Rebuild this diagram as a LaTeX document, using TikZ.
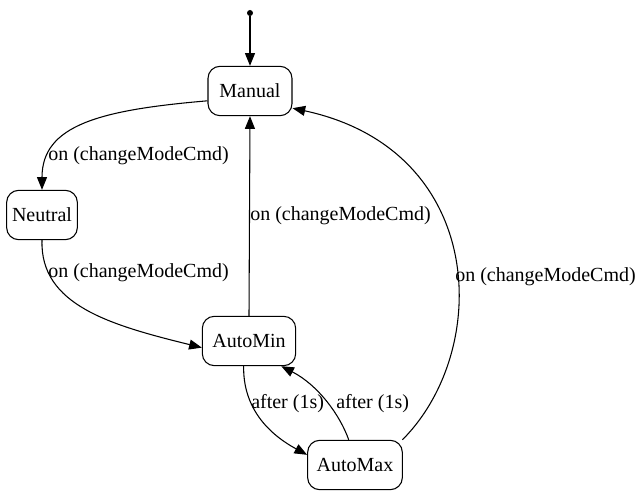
\documentclass[tikz,border=0pt]{standalone}
\usepackage{fontspec}
\setmainfont{Liberation Serif}
\usepackage{tikz}
\usetikzlibrary{calc, arrows.meta, positioning}

\tikzset{
  state/.style={draw, rounded corners=9pt, line width=0.8pt, minimum height=37pt, inner sep=0pt},
  trans/.style={line width=0.8pt, arrows={-Triangle[length=9.5pt,width=7.5pt]}},
  lbl/.style={anchor=west, inner sep=0pt}
}

\begin{document}
\begin{tikzpicture}[x=0.75pt,y=-0.75pt,font=\fontsize{15}{17}\selectfont]
        \useasboundingbox (0,0) rectangle (636,491);

        \node[circle, fill, inner sep=0pt, minimum size=4.5pt] (init) at (250,13) {};
        \node[state, minimum width=63pt] (manual) at (250,91) {Manual};
        \node[state, minimum width=53pt] (neutral) at (42,215) {Neutral};
        \node[state, minimum width=70pt] (automin) at (249,341) {AutoMin};
        \node[state, minimum width=71pt] (automax) at (355,465) {AutoMax};

        \draw[trans] (init) -- (manual);
        \draw[trans] (manual.193) .. controls (100,110) and (42,125) .. (neutral.north);
        \draw[trans] (neutral.south) .. controls (40,305) and (110,325) .. (automin.188);
        \draw[trans] (automin.north) -- (manual.south);
        \draw[trans] (automin.258) .. controls (243,405) and (265,432) .. (automax.168);
        \draw[trans] (automax.104) .. controls (340,415) and (318,385) .. (automin.322);
        \draw[trans] (automax.28) .. controls (492,350) and (487,150) .. (manual.338);

        \node[lbl] (l1) at (48,156) {on (changeModeCmd)};
        \node[lbl] (l2) at (48,273) {on (changeModeCmd)};
        \node[lbl] (l3) at (250,216) {on (changeModeCmd)};
        \node[lbl] (l4) at (455,277) {on (changeModeCmd)};
        \node[lbl] (l5) at (251,404) {after (1s)};
        \node[lbl] (l6) at (336,404) {after (1s)};
    \end{tikzpicture}
\end{document}
